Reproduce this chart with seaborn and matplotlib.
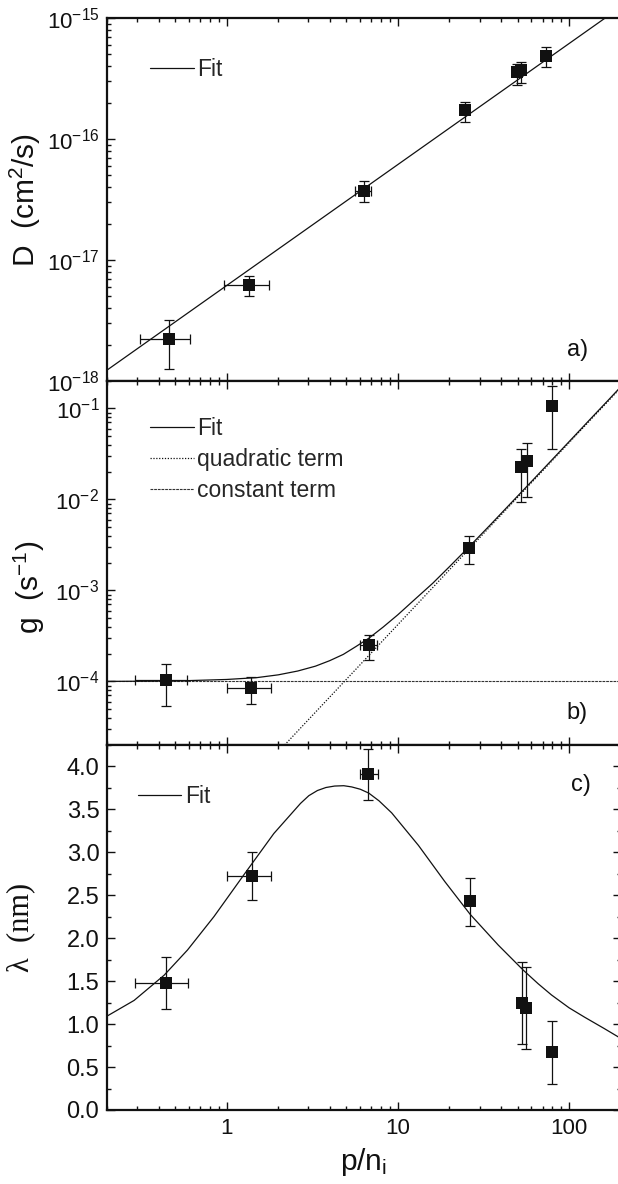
import numpy as np
import pandas as pd
import matplotlib
matplotlib.use('Agg')
import matplotlib.pyplot as plt
import seaborn as sns
from matplotlib.ticker import (LogLocator, FuncFormatter, NullFormatter, MultipleLocator,
                               FormatStrFormatter, LogFormatterSciNotation, FixedLocator)
from matplotlib.lines import Line2D

# ---------------- data ----------------
# panel a) diffusion coefficient D
a_x = [0.46, 1.35, 6.3, 24.6, 49.5, 52.7, 73.5]
a_xlo = [0.31, 0.96, 5.65, 23.6, 47.6, 50.7, 70.7]
a_xhi = [0.61, 1.76, 7.0, 25.6, 51.4, 54.7, 76.3]
a_y = [2.22e-18, 6.2e-18, 3.74e-17, 1.74e-16, 3.6e-16, 3.72e-16, 4.85e-16]
a_ylo = [1.26e-18, 5.0e-18, 3.03e-17, 1.39e-16, 2.79e-16, 2.9e-16, 3.96e-16]
a_yhi = [3.2e-18, 7.4e-18, 4.5e-17, 2.03e-16, 4.2e-16, 4.35e-16, 5.8e-16]
a_fit_x = [0.2, 200]
a_fit_y = [1.23e-18, 1.23e-15]

# panel b) g
b_x = [0.442, 1.395, 6.79, 26.2, 52.7, 56.5, 79.6]
b_xlo = [0.291, 1.01, 6.03, 25.2, 50.7, 54.4, 76.6]
b_xhi = [0.59, 1.81, 7.54, 27.2, 54.7, 58.6, 82.6]
b_y = [1.04e-4, 8.43e-5, 2.49e-4, 2.92e-3, 2.26e-2, 2.62e-2, 0.105]
b_ylo = [5.36e-5, 5.69e-5, 1.73e-4, 1.93e-3, 9.3e-3, 1.06e-2, 3.54e-2]
b_yhi = [1.54e-4, 1.11e-4, 3.26e-4, 3.95e-3, 3.57e-2, 4.16e-2, 0.175]
b_fit_x = [0.2, 0.5, 1, 1.5, 2, 2.6, 3.3, 4, 4.8, 5.7, 6.8, 8.2, 10, 12.5, 16, 20,
           26, 35, 47, 62, 80, 105, 135, 170, 200]
b_fit_y = [1.0e-4, 1.01e-4, 1.05e-4, 1.1e-4, 1.18e-4, 1.3e-4, 1.47e-4, 1.69e-4,
           1.98e-4, 2.42e-4, 3.0e-4, 3.95e-4, 5.4e-4, 7.9e-4, 1.2e-3, 1.82e-3,
           3.0e-3, 5.35e-3, 9.6e-3, 1.66e-2, 2.76e-2, 4.75e-2, 7.85e-2, 0.124, 0.172]
quad_x = [2.18, 200]
quad_y = [2.0e-5, 0.168]
const_x = [0.2, 200]
const_y = [1.0e-4, 1.0e-4]

# panel c) lambda
c_x = [0.441, 1.399, 6.73, 26.4, 52.8, 56.4, 79.9]
c_xlo = [0.292, 1.0, 6.02, 26.4, 52.8, 56.4, 79.9]
c_xhi = [0.595, 1.81, 7.67, 26.4, 52.8, 56.4, 79.9]
c_y = [1.479, 2.72, 3.911, 2.43, 1.246, 1.187, 0.679]
c_ylo = [1.179, 2.444, 3.607, 2.146, 0.769, 0.711, 0.308]
c_yhi = [1.78, 3.002, 4.204, 2.70, 1.725, 1.667, 1.042]
c_fit_x = [0.2, 0.288, 0.431, 0.59, 0.843, 1.262, 1.887, 2.70, 3.02, 3.39, 3.80, 4.27,
           4.83, 5.37, 6.03, 6.76, 7.76, 9.2, 13.2, 18.8, 26.4, 38.6, 53.9, 66, 78.9,
           100, 123.4, 160, 200]
c_fit_y = [1.093, 1.276, 1.569, 1.862, 2.252, 2.740, 3.22, 3.57, 3.66, 3.72, 3.755,
           3.772, 3.776, 3.762, 3.735, 3.69, 3.60, 3.46, 3.08, 2.66, 2.28, 1.92, 1.63,
           1.47, 1.34, 1.19, 1.08, 0.95, 0.835]

x_major = [1, 10, 100]

# ---------------- style ----------------
sns.set_theme(style='ticks')
plt.rcParams['font.family'] = ['Liberation Sans', 'DejaVu Sans']
plt.rcParams['mathtext.fontset'] = 'custom'
plt.rcParams['mathtext.rm'] = 'Liberation Sans'
plt.rcParams['mathtext.it'] = 'Liberation Sans:italic'
plt.rcParams['mathtext.bf'] = 'Liberation Sans:bold'
plt.rcParams['axes.unicode_minus'] = False
plt.rcParams['axes.linewidth'] = 1.6

INK = '#111111'
fig = plt.figure(figsize=(6.18, 11.84), dpi=100)
L = 107 / 618
W = (620.6 - 107) / 618
H = 1184
ax_a = fig.add_axes([L, 1 - 381 / H, W, 363 / H])
ax_b = fig.add_axes([L, 1 - 745 / H, W, 364 / H])
ax_c = fig.add_axes([L, 1 - 1110 / H, W, 365 / H])

lw_fit = 0.9
LEG = dict(loc='upper left', frameon=False, fontsize=16.5, handlelength=1.9,
           handletextpad=0.15, borderpad=0, borderaxespad=0)


def draw_points(ax, x, xlo, xhi, y, ylo, yhi):
    x = np.asarray(x); y = np.asarray(y)
    xerr = [x - np.asarray(xlo), np.asarray(xhi) - x]
    yerr = [y - np.asarray(ylo), np.asarray(yhi) - y]
    ax.errorbar(x, y, xerr=xerr, yerr=yerr, fmt='none', ecolor=INK,
                elinewidth=0.9, capsize=3.6, capthick=0.9, zorder=2)
    sns.scatterplot(x=x, y=y, ax=ax, marker='s', s=74, color=INK,
                    edgecolor=INK, linewidth=0, zorder=3, legend=False)


def style_axis(ax, bottom_labels, right):
    ax.set_xscale('log')
    ax.set_xlim(0.2, 200)
    ax.xaxis.set_major_locator(FixedLocator(x_major))
    ax.xaxis.set_minor_locator(LogLocator(base=10, subs=np.arange(2, 10), numticks=20))
    ax.xaxis.set_major_formatter(FuncFormatter(lambda v, p: f'{v:g}'))
    ax.xaxis.set_minor_formatter(NullFormatter())
    ax.tick_params(which='both', direction='in', top=True, right=right,
                   width=1.0, color=INK, labelcolor=INK)
    ax.tick_params(which='major', length=5.8)
    ax.tick_params(which='minor', length=3.2)
    ax.tick_params(axis='x', labelbottom=bottom_labels, labelsize=16, pad=5.5)
    ax.tick_params(axis='y', labelsize=16, pad=5.5)
    for s in ax.spines.values():
        s.set_color(INK)
        s.set_linewidth(1.6)
    ax.set_xlabel('')
    ax.set_ylabel('')


def log_y(ax, lo, hi):
    ax.set_yscale('log')
    ax.set_ylim(lo, hi)
    ax.yaxis.set_major_locator(LogLocator(base=10, numticks=20))
    ax.yaxis.set_minor_locator(LogLocator(base=10, subs=np.arange(2, 10), numticks=20))
    ax.yaxis.set_major_formatter(LogFormatterSciNotation())
    ax.yaxis.set_minor_formatter(NullFormatter())


# ---------------- panel a ----------------
ax = ax_a
ax.set_xscale('log'); ax.set_yscale('log')
sns.lineplot(x=a_fit_x, y=a_fit_y, ax=ax, color=INK, linewidth=lw_fit,
             estimator=None, sort=False, legend=False)
draw_points(ax, a_x, a_xlo, a_xhi, a_y, a_ylo, a_yhi)
style_axis(ax, False, False)
log_y(ax, 1e-18, 1e-15)
ax.set_ylabel('D  (cm$^2$/s)', fontsize=21.5, color=INK)
ax.yaxis.set_label_coords(-0.125, 0.5)
ax.legend(handles=[Line2D([], [], color=INK, lw=lw_fit)], labels=['Fit'],
          bbox_to_anchor=(0.084, 0.891), **LEG)
ax.text(0.896, 0.085, 'a)', transform=ax.transAxes, fontsize=17,
        ha='left', va='center', color=INK)

# ---------------- panel b ----------------
ax = ax_b
ax.set_xscale('log'); ax.set_yscale('log')
ls_quad = (0, (1, 1.3))
ls_const = (0, (2.5, 0.8))
sns.lineplot(x=const_x, y=const_y, ax=ax, color='#333333', linewidth=0.8,
             linestyle=ls_const, estimator=None, sort=False, legend=False)
sns.lineplot(x=quad_x, y=quad_y, ax=ax, color=INK, linewidth=0.9,
             linestyle=ls_quad, estimator=None, sort=False, legend=False)
sns.lineplot(x=b_fit_x, y=b_fit_y, ax=ax, color=INK, linewidth=lw_fit,
             estimator=None, sort=False, legend=False)
draw_points(ax, b_x, b_xlo, b_xhi, b_y, b_ylo, b_yhi)
style_axis(ax, False, False)
log_y(ax, 2e-5, 0.2)
ax.set_ylabel('g  (s$^{-1}$)', fontsize=21.5, color=INK)
ax.yaxis.set_label_coords(-0.117, 0.434)
hb = [Line2D([], [], color=INK, lw=lw_fit),
      Line2D([], [], color=INK, lw=0.9, linestyle=ls_quad),
      Line2D([], [], color='#333333', lw=0.8, linestyle=ls_const)]
ax.legend(handles=hb, labels=['Fit', 'quadratic term', 'constant term'],
          bbox_to_anchor=(0.084, 0.901), labelspacing=0.34, **LEG)
ax.text(0.894, 0.088, 'b)', transform=ax.transAxes, fontsize=17,
        ha='left', va='center', color=INK)

# ---------------- panel c ----------------
ax = ax_c
ax.set_xscale('log')
sns.lineplot(x=c_fit_x, y=c_fit_y, ax=ax, color=INK, linewidth=lw_fit,
             estimator=None, sort=False, legend=False)
draw_points(ax, c_x, c_xlo, c_xhi, c_y, c_ylo, c_yhi)
style_axis(ax, True, True)
ax.set_ylim(0, 4.25)
ax.yaxis.set_major_locator(MultipleLocator(0.5))
ax.yaxis.set_minor_locator(MultipleLocator(0.25))
ax.yaxis.set_major_formatter(FormatStrFormatter('%.1f'))
ax.tick_params(axis='y', labelsize=17)
ax.set_ylabel('λ  (nm)', fontsize=22, family=['Liberation Serif', 'DejaVu Serif'],
              color=INK)
ax.yaxis.set_label_coords(-0.140, 0.5)
ax.set_xlabel('p/n$_\\mathregular{i}$', fontsize=21.5, color=INK, labelpad=5)
ax.legend(handles=[Line2D([], [], color=INK, lw=lw_fit)], labels=['Fit'],
          bbox_to_anchor=(0.060, 0.891), **LEG)
ax.text(0.903, 0.89, 'c)', transform=ax.transAxes, fontsize=17,
        ha='left', va='center', color=INK)

fig.savefig('out.png', dpi=100)
